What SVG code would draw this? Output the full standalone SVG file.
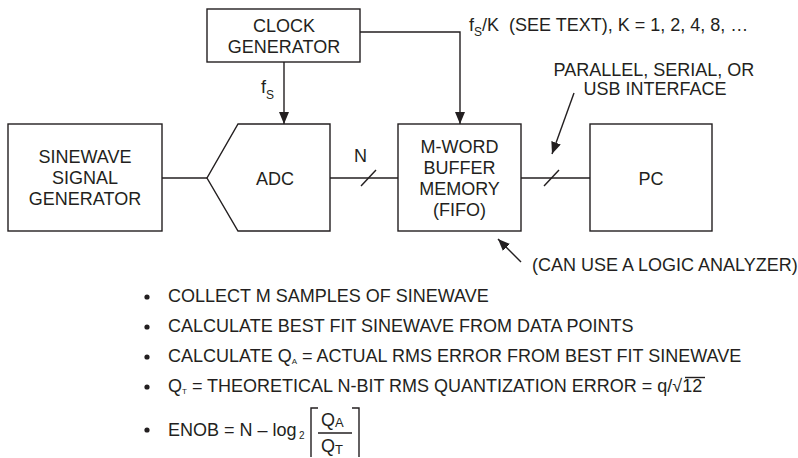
<svg xmlns="http://www.w3.org/2000/svg" width="798" height="458" viewBox="0 0 798 458">
<style>
.box{fill:#fff;stroke:#231f20;stroke-width:1.4}
.ln{fill:none;stroke:#231f20;stroke-width:1.4}
.t{font-family:"Liberation Sans",Arial,sans-serif;font-size:18px;fill:#231f20}
.c{text-anchor:middle}
.b{font-family:"Liberation Sans",Arial,sans-serif;font-size:18px;fill:#231f20}
</style>
<defs>
<marker id="ah" markerWidth="12" markerHeight="10" refX="12" refY="5" orient="auto" markerUnits="userSpaceOnUse">
<path d="M0,0 L12,5 L0,10 Z" fill="#231f20"/>
</marker>
</defs>
<rect width="798" height="458" fill="#fff"/>
<g id="connectors">
<polyline class="ln" points="360,32 460,32 460,124" marker-end="url(#ah)"/>
<line class="ln" x1="284" y1="62" x2="284" y2="124" marker-end="url(#ah)"/>
<line class="ln" x1="162" y1="178" x2="207" y2="178"/>
<line class="ln" x1="330" y1="178" x2="398" y2="178"/>
<line class="ln" x1="361" y1="186" x2="376" y2="170"/>
<line class="ln" x1="521" y1="178" x2="590" y2="178"/>
<line class="ln" x1="544" y1="186" x2="559" y2="170"/>
<line class="ln" x1="574" y1="93" x2="552" y2="154" marker-end="url(#ah)"/>
<line class="ln" x1="521" y1="262" x2="498" y2="239" marker-end="url(#ah)"/>
</g>
<g id="clock">
<rect class="box" x="207" y="9" width="153" height="53"/>
<text class="t c" x="284" y="32">CLOCK</text>
<text class="t c" x="284" y="53">GENERATOR</text>
</g>
<g id="sinewave">
<rect class="box" x="8" y="124" width="154" height="107"/>
<text class="t c" x="85" y="163">SINEWAVE</text>
<text class="t c" x="85" y="184">SIGNAL</text>
<text class="t c" x="85" y="205">GENERATOR</text>
</g>
<g id="adc">
<path class="box" d="M238,124 L330,124 L330,231 L238,231 L207,178 Z"/>
<text class="t c" x="275" y="185">ADC</text>
</g>
<g id="fifo">
<rect class="box" x="398" y="124" width="123" height="107"/>
<text class="t c" x="459.5" y="153">M-WORD</text>
<text class="t c" x="459.5" y="174">BUFFER</text>
<text class="t c" x="459.5" y="195">MEMORY</text>
<text class="t c" x="459.5" y="216">(FIFO)</text>
</g>
<g id="pc">
<rect class="box" x="590" y="124" width="122" height="107"/>
<text class="t c" x="651" y="185">PC</text>
</g>
<g id="labels">
<text class="t" x="261" y="93">f<tspan font-size="12" dy="6">S</tspan></text>
<text class="t" x="354" y="162">N</text>
<text class="t" x="469" y="31">f<tspan font-size="12" dy="5">S</tspan><tspan dy="-5">/K</tspan><tspan dx="10">(SEE TEXT), K = 1, 2, 4, 8, …</tspan></text>
<text class="t c" x="654" y="76">PARALLEL, SERIAL, OR</text>
<text class="t c" x="655" y="95">USB INTERFACE</text>
<text class="t" x="532" y="271">(CAN USE A LOGIC ANALYZER)</text>
</g>
<g id="bullets">
<g fill="#231f20">
<circle cx="147" cy="297" r="2.6"/>
<circle cx="147" cy="327" r="2.6"/>
<circle cx="147" cy="357" r="2.6"/>
<circle cx="147" cy="387" r="2.6"/>
<circle cx="147" cy="430" r="2.6"/>
</g>
<text class="b" x="168" y="302">COLLECT M SAMPLES OF SINEWAVE</text>
<text class="b" x="168" y="332">CALCULATE BEST FIT SINEWAVE FROM DATA POINTS</text>
<text class="b" x="168" y="362">CALCULATE Q<tspan font-size="8" dy="2">A</tspan><tspan dy="-2"> = ACTUAL RMS ERROR FROM BEST FIT SINEWAVE</tspan></text>
<text class="b" x="168" y="392">Q<tspan font-size="8" dy="2">T</tspan><tspan dy="-2"> = THEORETICAL N-BIT RMS QUANTIZATION ERROR = q/√12</tspan></text>
<line class="ln" x1="685" y1="377.5" x2="705" y2="377.5" stroke-width="1.1"/>
<text class="b" x="168" y="436">ENOB = N – log</text>
<text x="299" y="439" font-family="Liberation Sans, Arial, sans-serif" font-size="10" fill="#231f20">2</text>
<polyline class="ln" points="318,408 311,408 311,457"/>
<polyline class="ln" points="352,408 359,408 359,457"/>
<text class="b" x="321" y="426">Q<tspan font-size="13" dy="1">A</tspan></text>
<line class="ln" x1="318" y1="433" x2="352" y2="433"/>
<text class="b" x="321" y="452">Q<tspan font-size="13" dy="2">T</tspan></text>
</g>
</svg>
